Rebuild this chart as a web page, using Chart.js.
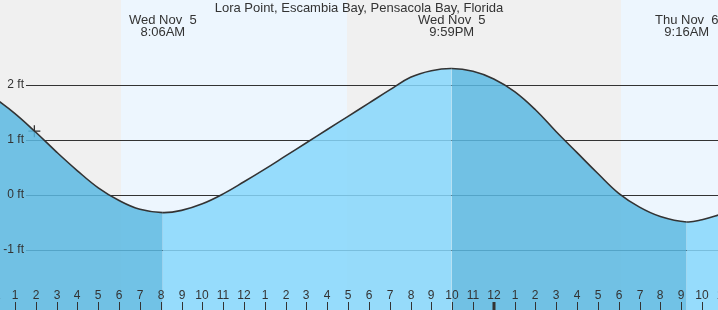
<!DOCTYPE html>
<html>
<head>
<meta charset="utf-8">
<script src="https://cdn.jsdelivr.net/npm/chart.js@4.4.1/dist/chart.umd.min.js"></script>
<style>
  body { margin: 0; background: #fff; }
  #wrap { width: 718px; height: 310px; }
</style>
</head>
<body>
<div id="wrap"><canvas id="tideChart" width="718" height="310"></canvas></div>
<script>
// hours since midnight Wed Nov 5, tide height in ft
const hours = [0, 1, 2, 3, 4, 5, 6, 7, 8.1, 9, 10, 11, 12, 13, 14, 15, 16, 17, 18, 19, 20, 21, 21.98,
  23, 24, 25, 26, 27, 28, 29, 30, 31, 32, 33.27, 34, 35];
const heights = [1.77, 1.48, 1.14, 0.78, 0.44, 0.13, -0.10, -0.26, -0.32, -0.28, -0.16, 0.02, 0.24, 0.47, 0.71, 0.95, 1.19, 1.43, 1.67, 1.91, 2.14, 2.26, 2.30,
  2.25, 2.11, 1.88, 1.55, 1.15, 0.77, 0.39, 0.03, -0.22, -0.39, -0.49, -0.45, -0.34];

const nowHour = [1.93];
const nowHeight = [1.16];

const extremeHours = [8.1, 21.98, 33.27];
const extremeDays = ["Wed Nov  5", "Wed Nov  5", "Thu Nov  6"];
const extremeTimes = ["8:06AM", "9:59PM", "9:16AM"];

const dayStart = [6.09, 30.1];
const dayEnd = [16.93, 40];

const tickHours = [0, 1, 2, 3, 4, 5, 6, 7, 8, 9, 10, 11, 12, 13, 14, 15, 16, 17, 18, 19, 20, 21, 22, 23, 24,
  25, 26, 27, 28, 29, 30, 31, 32, 33, 34, 35];
const tickLabels = ["12", "1", "2", "3", "4", "5", "6", "7", "8", "9", "10", "11", "12", "1", "2", "3", "4", "5", "6", "7", "8", "9", "10", "11", "12",
  "1", "2", "3", "4", "5", "6", "7", "8", "9", "10", "11"];

const gridValues = [2, 1, 0, -1];
const gridLabels = ["2 ft", "1 ft", "0 ft", "-1 ft"];

const title = "Lora Point, Escambia Bay, Pensacola Bay, Florida";

const FONT = '"Liberation Sans", Arial, sans-serif';
const TEXT = "#333";

const tideDecor = {
  id: "tideDecor",
  beforeDraw(chart) {
    const {ctx, width, height, scales: {x}} = chart;
    ctx.save();
    ctx.fillStyle = "#f0f0f0";
    ctx.fillRect(0, 0, width, height);
    ctx.fillStyle = "#edf6fe";
    dayStart.forEach((h, i) => {
      const x0 = Math.round(x.getPixelForValue(h));
      const x1 = Math.round(x.getPixelForValue(dayEnd[i]));
      ctx.fillRect(x0, 0, x1 - x0, height);
    });
    ctx.restore();
  },
  beforeDatasetsDraw(chart) {
    const {ctx, width, scales: {y}} = chart;
    ctx.save();
    ctx.strokeStyle = "#333";
    ctx.lineWidth = 1;
    gridValues.forEach(v => {
      const py = Math.round(y.getPixelForValue(v)) + 0.5;
      ctx.beginPath();
      ctx.moveTo(26, py);
      ctx.lineTo(width, py);
      ctx.stroke();
    });
    ctx.restore();
  },
  afterDatasetsDraw(chart) {
    const {ctx, width, height, scales: {x, y}} = chart;
    ctx.save();
    ctx.fillStyle = TEXT;
    ctx.strokeStyle = TEXT;
    ctx.textBaseline = "middle";

    // y labels
    ctx.font = "12px " + FONT;
    ctx.textAlign = "right";
    gridValues.forEach((v, i) => {
      ctx.fillText(gridLabels[i], 24, Math.round(y.getPixelForValue(v)));
    });

    // hour labels + ticks
    ctx.textAlign = "center";
    tickHours.forEach((h, i) => {
      const px = Math.round(x.getPixelForValue(h));
      ctx.fillText(tickLabels[i], px, 296);
      const midnight = h % 24 === 0;
      ctx.lineWidth = midnight ? 3 : 1;
      ctx.beginPath();
      ctx.moveTo(midnight ? px : px + 0.5, 302);
      ctx.lineTo(midnight ? px : px + 0.5, height);
      ctx.stroke();
    });

    // title and high/low notes
    ctx.font = "13px " + FONT;
    ctx.fillText(title, width / 2, 8);
    extremeHours.forEach((h, i) => {
      const px = x.getPixelForValue(h);
      ctx.fillText(extremeDays[i], px, 20);
      ctx.fillText(extremeTimes[i], px, 32);
    });
    ctx.restore();
  }
};

const chart = document.querySelector("#tideChart");
new Chart(chart, {
  type: "line",
  data: {
    datasets: [
      {
        data: hours.map((h, i) => ({x: h, y: heights[i]})),
        borderColor: "#333",
        borderWidth: 1.6,
        pointRadius: 0,
        tension: 0.4,
        fill: "start",
        backgroundColor: "rgba(134, 215, 251, 0.85)",
        segment: {
          // falling tide darker, rising lighter
          backgroundColor: ctx => ctx.p1.parsed.y < ctx.p0.parsed.y ? "rgba(91, 185, 226, 0.85)" : "rgba(134, 215, 251, 0.85)"
        }
      },
      {
        data: nowHour.map((h, i) => ({x: h, y: nowHeight[i]})),
        showLine: false,
        pointStyle: "cross",
        pointRadius: 6,
        borderColor: "#333",
        pointBorderWidth: 1.3,
        fill: false
      }
    ]
  },
  options: {
    responsive: false,
    animation: false,
    layout: {padding: 0, autoPadding: false},
    scales: {
      x: {type: "linear", min: 0.2795, max: 34.77, display: false},
      y: {min: -2.091, max: 3.545, display: false}
    },
    plugins: {
      legend: {display: false},
      tooltip: {enabled: false}
    }
  },
  plugins: [tideDecor]
});
</script>
</body>
</html>
